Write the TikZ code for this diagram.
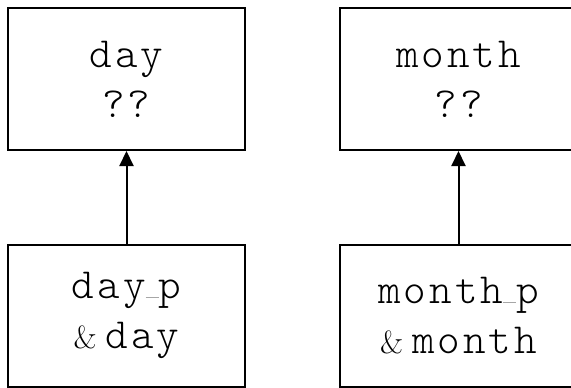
\documentclass[tikz,border=0pt]{standalone}
\usepackage{fontspec}
\setmonofont{Latin Modern Mono Light}[LetterSpace=7]
\usetikzlibrary{arrows.meta}
\newcommand{\amp}{{\rmfamily\fontsize{32}{50}\selectfont\&}\hspace{9pt}}
\newcommand{\usc}{{\color{black!35}\rule[1pt]{13pt}{0.8pt}}}
\tikzset{
  box/.style={draw, line width=2pt, minimum width=237pt, minimum height=142pt,
    align=center, inner sep=0pt,
    font=\ttfamily\fontsize{43}{50}\selectfont},
  link/.style={line width=2pt, -{Triangle[length=15pt,width=14pt]}}
}
\begin{document}
\begin{tikzpicture}[x=1pt,y=-1pt]
\useasboundingbox (0,0) rectangle (571,388);
\node[box] (dq) at (126.5,79) {day\\??};
\node[box] (dp) at (126.5,315.5) {day\usc p\\\amp day};
\node[box] (mq) at (458.5,79) {month\\??};
\node[box] (mp) at (458.5,315.5) {month\usc p\\\amp month};
\draw[link] (dp) -- (dq);
\draw[link] (mp) -- (mq);
\end{tikzpicture}
\end{document}
